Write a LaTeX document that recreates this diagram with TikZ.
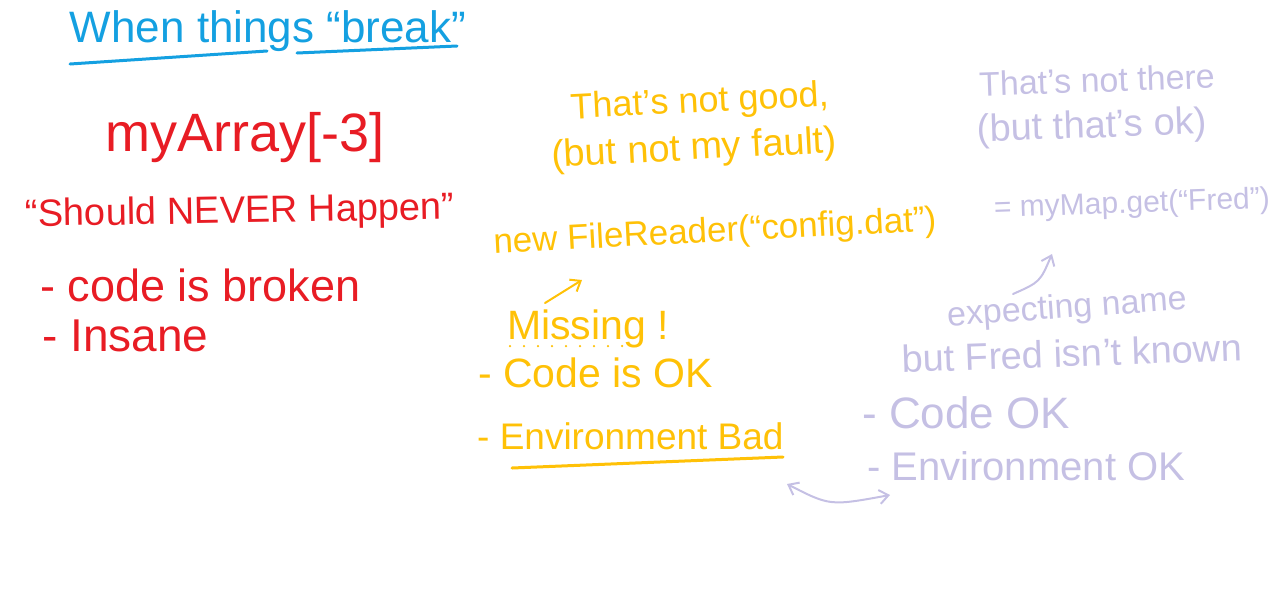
\documentclass[tikz,border=0pt]{standalone}
\usepackage{fontspec}
\setmainfont{Liberation Sans}
\usetikzlibrary{arrows.meta}
\definecolor{inkblue}{RGB}{20,160,225}
\definecolor{inkred}{RGB}{232,28,36}
\definecolor{inkyellow}{RGB}{255,193,7}
\definecolor{inklilac}{RGB}{197,192,228}
\begin{document}
\begin{tikzpicture}[x=1pt, y=-1pt,
  hand/.style={inner sep=0pt, font={\fontsize{#1}{#1}\selectfont}},
  head/.style={hand=44, text=inkblue},
  broken/.style={hand=36, text=inkred},
  notmine/.style={hand=30, text=inkyellow},
  okay/.style={hand=30, text=inklilac},
  pen/.style={line width=3pt, line cap=round, #1},
  tip/.style={-{Straight Barb[length=9pt, width=14pt]}}
]
  \useasboundingbox (0,0) rectangle (1268,590);

  \node[head] (title) at (268,31) {When things “break”};
  \draw[pen=inkblue] (70,64) -- (267,51);
  \draw[pen=inkblue] (297,53) -- (457,46);

  \node[broken, hand=54] (index) at (245,138) {myArray[-3]};
  \node[broken, hand=38, rotate=1] (never) at (240,213) {“Should NEVER Happen”};
  \node[broken, hand=45, anchor=west] (codebad) at (40,285) {- code is broken};
  \node[broken, hand=46, anchor=west] (insane) at (42,336) {- Insane};

  \node[notmine, hand=36, rotate=3] (notgood) at (700,103) {That's not good,};
  \node[notmine, hand=38, rotate=3] (notfault) at (694,150) {(but not my fault)};
  \node[notmine, hand=35, rotate=3] (reader) at (715,233) {new FileReader(“config.dat”)};
  \node[notmine, hand=41, anchor=west] (missing) at (507,329) {Missing !};
  \node[notmine, hand=41, anchor=west] (codeok) at (478,373) {- Code is OK};
  \node[notmine, hand=37, anchor=west] (envbad) at (477,436) {- Environment Bad};
  \draw[pen=inkyellow] (512,468) -- (783,457);
  \draw[pen=inkyellow, line width=2.5pt, dash pattern=on 0pt off 14pt] (510,346) -- (640,346);
  \coordinate (miss-from) at (545,303);
  \coordinate (miss-to) at (582,280);
  \draw[pen=inkyellow, line width=2pt, tip] (miss-from) -- (miss-to);

  \node[okay, hand=34, rotate=2] (notthere) at (1097,80) {That's not there};
  \node[okay, hand=38, rotate=2] (butok) at (1092,128) {(but that's ok)};
  \node[okay, rotate=2] (getfred) at (1132,205) {= myMap.get(“Fred”)};
  \node[okay, hand=34, rotate=4] (expect) at (1067,309) {expecting name};
  \node[okay, hand=38, rotate=2] (unknown) at (1072,353) {but Fred isn't known};
  \node[okay, hand=44, anchor=west] (codefine) at (862,413) {- Code OK};
  \node[okay, hand=40, anchor=west] (envfine) at (867,466) {- Environment OK};

  \coordinate (look-from) at (1013,294);
  \coordinate (look-to) at (1052,254);
  \draw[pen=inklilac, line width=2pt, tip] (look-from) .. controls (1040,282) .. (look-to);
  \coordinate (swap-a) at (787,484);
  \coordinate (swap-b) at (890,495);
  \draw[pen=inklilac, line width=2pt, {Straight Barb[length=9pt, width=14pt]}-{Straight Barb[length=9pt, width=14pt]}]
    (swap-a) .. controls (830,506) .. (swap-b);
\end{tikzpicture}
\end{document}
